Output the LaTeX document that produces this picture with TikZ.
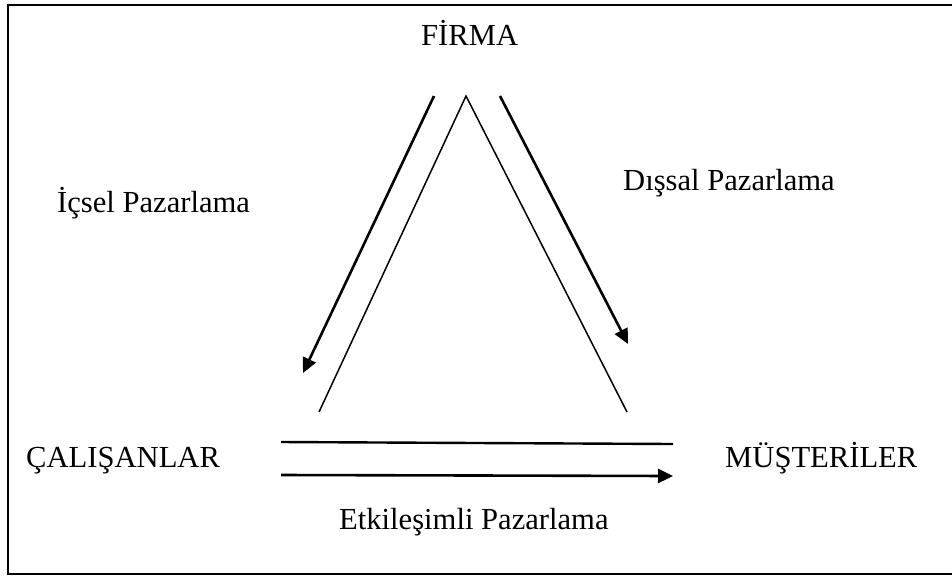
\documentclass[tikz,border=0pt]{standalone}
\usepackage{fontspec}
\setmainfont{Liberation Serif}
\usetikzlibrary{arrows.meta}
\begin{document}
\begin{tikzpicture}[x=1pt,y=-1pt,
  lbl/.style={anchor=base west,inner sep=0pt,font=\fontsize{30.6}{36}\selectfont},
  thinline/.style={line width=1.5pt},
  arr/.style={line width=2.6pt,-{Triangle[length=15pt,width=14pt]}},
  plainline/.style={line width=2.4pt}]
\useasboundingbox (0,0) rectangle (952,576);
\draw[line width=2.2pt] (8,5) rectangle (960,574);
% texts
\node[lbl] (firma) at (421,45) {FİRMA};
\node[lbl] (icsel) at (57,212) {İçsel Pazarlama};
\node[lbl] (dissal) at (623,190) {Dışsal Pazarlama};
\node[lbl] (calisan) at (26,467) {ÇALIŞANLAR};
\node[lbl] (musteri) at (725,467) {MÜŞTERİLER};
\node[lbl] (etkil) at (339,529) {Etkileşimli Pazarlama};
% coordinates
\coordinate (apex) at (466,96);
\coordinate (bl) at (319,412);
\coordinate (br) at (627,412);
\coordinate (la) at (434,96);
\coordinate (lb) at (303,373);
\coordinate (ra) at (500,96);
\coordinate (rb) at (628,344);
\coordinate (ha) at (281,442);
\coordinate (hb) at (673,444);
\coordinate (aa) at (281,475);
\coordinate (ab) at (673,476);
% triangle
\draw[thinline] (bl) -- (apex) -- (br);
% arrows
\draw[arr] (la) -- (lb);
\draw[arr] (ra) -- (rb);
\draw[plainline] (ha) -- (hb);
\draw[arr] (aa) -- (ab);
\end{tikzpicture}
\end{document}
